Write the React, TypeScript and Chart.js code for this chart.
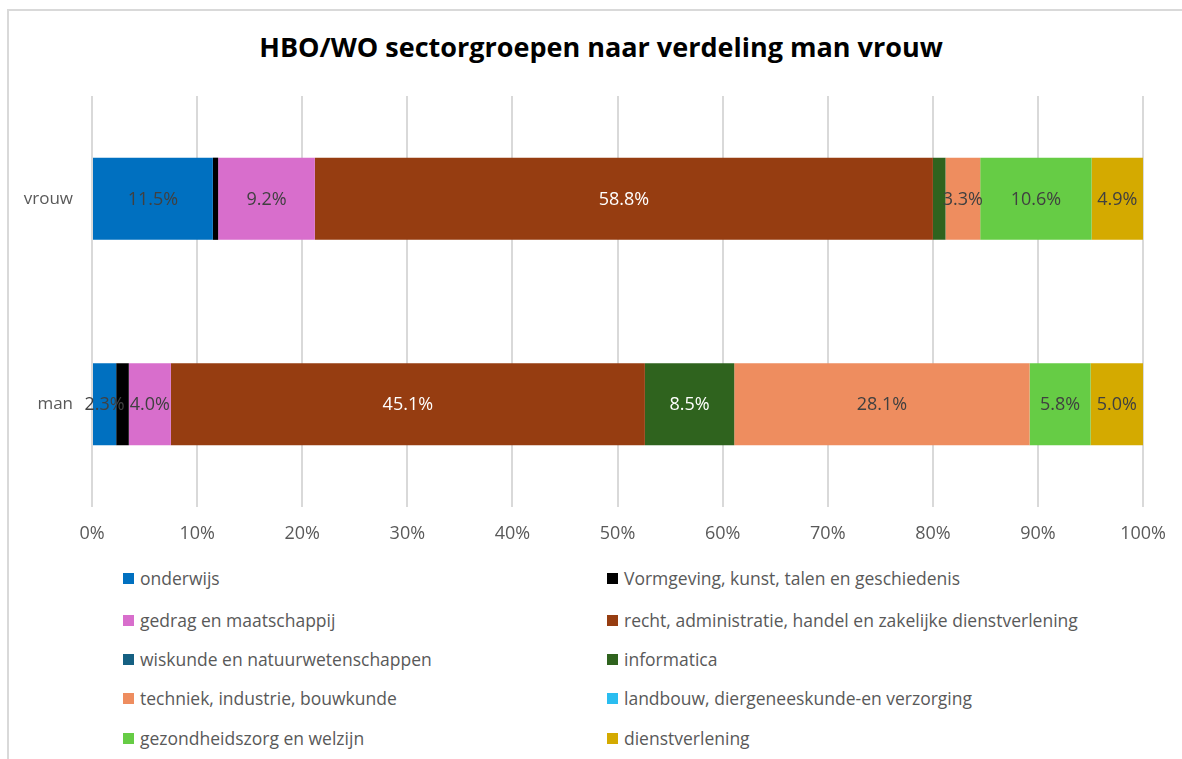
import React, { useEffect, useRef } from "react";
import { Chart, registerables } from "chart.js";

Chart.register(...registerables);

const chartTitle = "HBO/WO sectorgroepen naar verdeling man vrouw";
const categories = ["vrouw", "man"];
const seriesNames = [
  "onderwijs",
  "Vormgeving, kunst, talen en geschiedenis",
  "gedrag en maatschappij",
  "recht, administratie, handel en zakelijke dienstverlening",
  "wiskunde en natuurwetenschappen",
  "informatica",
  "techniek, industrie, bouwkunde",
  "landbouw, diergeneeskunde-en verzorging",
  "gezondheidszorg en welzijn",
  "dienstverlening",
];
const seriesColors = [
  "#0070C0",
  "#000000",
  "#D86ECC",
  "#963D11",
  "#156082",
  "#2F631E",
  "#EE8D5F",
  "#2ABDF0",
  "#66CC45",
  "#D4AA00",
];
// values per series: [vrouw, man] in %
const onderwijs = [11.5, 2.3];
const vormgeving = [0.5, 1.2];
const gedrag = [9.2, 4.0];
const recht = [58.8, 45.1];
const wiskunde = [0, 0];
const informatica = [1.2, 8.5];
const techniek = [3.3, 28.1];
const landbouw = [0, 0];
const gezondheidszorg = [10.6, 5.8];
const dienstverlening = [4.9, 5.0];
const seriesValues = [
  onderwijs,
  vormgeving,
  gedrag,
  recht,
  wiskunde,
  informatica,
  techniek,
  landbouw,
  gezondheidszorg,
  dienstverlening,
];
const whiteLabelSeries = [3, 5];
const xTicks = [0, 10, 20, 30, 40, 50, 60, 70, 80, 90, 100];

const FONT = "'Open Sans', 'Noto Sans', sans-serif";

const labelPlugin = {
  id: "barLabels",
  afterDatasetsDraw(chart: any) {
    const ctx = chart.ctx;
    ctx.save();
    ctx.font = `18px ${FONT}`;
    ctx.textAlign = "center";
    ctx.textBaseline = "middle";
    chart.data.datasets.forEach((ds: any, di: number) => {
      const meta = chart.getDatasetMeta(di);
      meta.data.forEach((el: any, i: number) => {
        const v = ds.data[i];
        if (v < 2) return;
        const p = el.getCenterPoint();
        ctx.fillStyle = whiteLabelSeries.includes(di) ? "#FFFFFF" : "#404040";
        ctx.fillText(v.toFixed(1) + "%", p.x, p.y + 1);
      });
    });
    ctx.restore();
  },
};

export default function App() {
  const canvasRef = useRef<HTMLCanvasElement | null>(null);

  useEffect(() => {
    if (!canvasRef.current) return;
    const chart = new Chart(canvasRef.current, {
      type: "bar",
      data: {
        labels: categories,
        datasets: seriesNames.map((name, i) => ({
          label: name,
          data: seriesValues[i],
          backgroundColor: seriesColors[i],
          borderWidth: 0,
          barPercentage: 0.4,
          categoryPercentage: 1,
        })),
      },
      options: {
        indexAxis: "y",
        animation: false,
        responsive: false,
        maintainAspectRatio: false,
        layout: { padding: { left: 0, right: 38, top: 84, bottom: 0 } },
        plugins: {
          legend: { display: false },
          tooltip: { enabled: false },
          title: { display: false },
        },
        scales: {
          x: {
            stacked: true,
            min: 0,
            max: 100,
            afterBuildTicks: (scale: any) => {
              scale.ticks = xTicks.map((v) => ({ value: v }));
            },
            afterFit: (scale: any) => {
              scale.height = 45;
            },
            ticks: {
              callback: (v: any) => v + "%",
              color: "#595959",
              font: { family: FONT, size: 18 },
              padding: 16,
            },
            grid: { color: "#D9D9D9", lineWidth: 2, drawTicks: false },
            border: { display: false },
          },
          y: {
            stacked: true,
            afterFit: (scale: any) => {
              scale.width = 82;
            },
            ticks: {
              color: "#595959",
              font: { family: FONT, size: 17 },
              padding: 19,
            },
            grid: { display: false, drawTicks: false },
            border: { display: false },
          },
        },
      },
      plugins: [labelPlugin],
    });
    return () => chart.destroy();
  }, []);

  const rows: number[][] = [];
  for (let i = 0; i < seriesNames.length; i += 2) rows.push([i, i + 1]);

  return (
    <div
      style={{
        position: "fixed",
        left: 0,
        top: 0,
        width: 1182,
        height: 759,
        background: "#FFFFFF",
        overflow: "hidden",
      }}
    >
      <div
        style={{
          position: "absolute",
          left: 7,
          top: 9,
          width: 1200,
          height: 800,
          borderLeft: "2px solid #D9D9D9",
          borderTop: "2px solid #D9D9D9",
        }}
      />
      <div
        style={{
          position: "absolute",
          left: 0,
          width: 1202,
          top: 28,
          height: 38,
          lineHeight: "38px",
          textAlign: "center",
          fontFamily: FONT,
          fontWeight: "bold",
          fontSize: 27,
          color: "#000000",
          whiteSpace: "nowrap",
        }}
      >
        {chartTitle}
      </div>
      <canvas
        ref={canvasRef}
        width={1172}
        height={540}
        style={{ position: "absolute", left: 10, top: 12, width: 1172, height: 540 }}
      />
      {rows.map((pair, r) =>
        pair.map((idx, c) => (
          <div
            key={idx}
            style={{
              position: "absolute",
              left: c === 0 ? 123 : 607,
              top: [578, 620, 659, 698, 738][r] - 11,
              height: 22,
              display: "flex",
              alignItems: "center",
              fontFamily: FONT,
              fontSize: 17.5,
              color: "#595959",
              whiteSpace: "nowrap",
            }}
          >
            <span
              style={{
                display: "inline-block",
                width: 11,
                height: 11,
                background: seriesColors[idx],
                marginRight: 6,
              }}
            />
            {seriesNames[idx]}
          </div>
        ))
      )}
    </div>
  );
}
